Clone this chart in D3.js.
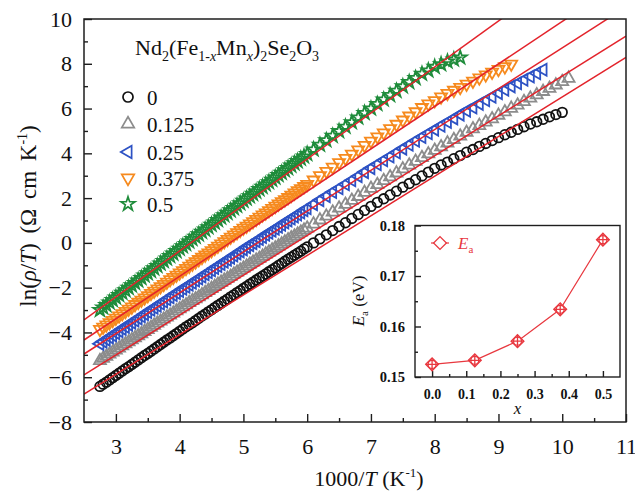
<!DOCTYPE html>
<html>
<head>
<meta charset="utf-8">
<script src="https://cdn.jsdelivr.net/npm/d3@7"></script>
<style>
  html, body { margin: 0; padding: 0; background: #fff; }
  svg, svg text { font-family: "Liberation Serif", "Times New Roman", serif; }
  svg { display: block; }
</style>
</head>
<body>
<svg id="chart" width="635" height="494"></svg>
<script>
// 1000/T grid shared by all five samples (K^-1)
const invT = [
  2.75, 2.8, 2.85, 2.9, 2.95, 3, 3.05, 3.1, 3.15, 3.2, 3.25, 3.3, 3.35, 3.4, 3.45, 3.5,
  3.55, 3.6, 3.65, 3.7, 3.75, 3.8, 3.85, 3.9, 3.95, 4, 4.05, 4.1, 4.15, 4.2, 4.25, 4.3,
  4.35, 4.4, 4.45, 4.5, 4.55, 4.6, 4.65, 4.7, 4.75, 4.8, 4.85, 4.9, 4.95, 5,
  5.05, 5.1, 5.15, 5.2, 5.25, 5.3, 5.35, 5.4, 5.45, 5.5, 5.55, 5.6, 5.65, 5.7, 5.75, 5.8,
  5.85, 5.9, 5.95, 6,
  6.1, 6.2, 6.3, 6.4, 6.5, 6.6, 6.7, 6.8, 6.9, 7, 7.1, 7.2, 7.3, 7.4, 7.5, 7.6, 7.7, 7.8,
  7.9, 8, 8.1, 8.2, 8.3, 8.4, 8.5, 8.6, 8.7, 8.8, 8.9, 9, 9.1, 9.2, 9.3, 9.4, 9.5, 9.6,
  9.7, 9.8, 9.9, 10, 10.1,
];

// ln(rho/T) for each sample (same order as invT)
const lnX000 = [
  -6.41, -6.31, -6.22, -6.12, -6.02, -5.92, -5.82, -5.72, -5.62, -5.53, -5.43, -5.33, -5.23, -5.13, -5.03, -4.94,
  -4.84, -4.74, -4.64, -4.54, -4.44, -4.34, -4.25, -4.15, -4.05, -3.95, -3.85, -3.75, -3.66, -3.57, -3.47, -3.37,
  -3.27, -3.18, -3.08, -2.99, -2.89, -2.79, -2.70, -2.60, -2.51, -2.41, -2.32, -2.22, -2.13, -2.03,
  -1.94, -1.84, -1.75, -1.66, -1.57, -1.48, -1.39, -1.29, -1.20, -1.11, -1.01, -0.92, -0.82, -0.73, -0.64, -0.55,
  -0.46, -0.37, -0.27, -0.18,
  0.00, 0.18, 0.36, 0.55, 0.73, 0.90, 1.09, 1.27, 1.45, 1.63, 1.81, 1.97, 2.14, 2.31, 2.49, 2.65, 2.82, 2.99,
  3.16, 3.33, 3.48, 3.61, 3.76, 3.90, 4.05, 4.17, 4.31, 4.44, 4.57, 4.70, 4.83, 4.94, 5.07, 5.19, 5.31, 5.41,
  5.52, 5.63, 5.73, 5.83,
];
const lnX125 = [
  -5.26, -5.16, -5.07, -4.97, -4.88, -4.79, -4.70, -4.60, -4.51, -4.42, -4.33, -4.24, -4.15, -4.06, -3.96, -3.87,
  -3.78, -3.68, -3.59, -3.50, -3.41, -3.32, -3.23, -3.14, -3.04, -2.95, -2.86, -2.77, -2.67, -2.58, -2.50, -2.41,
  -2.32, -2.22, -2.13, -2.04, -1.95, -1.85, -1.76, -1.67, -1.59, -1.50, -1.40, -1.31, -1.22, -1.13,
  -1.04, -0.95, -0.86, -0.77, -0.69, -0.60, -0.50, -0.41, -0.32, -0.23, -0.14, -0.05, 0.04, 0.13, 0.22, 0.30,
  0.39, 0.48, 0.57, 0.66,
  0.84, 1.02, 1.19, 1.37, 1.55, 1.72, 1.90, 2.07, 2.25, 2.43, 2.60, 2.78, 2.95, 3.12, 3.30, 3.47, 3.64, 3.81,
  3.97, 4.13, 4.29, 4.46, 4.61, 4.77, 4.93, 5.09, 5.24, 5.39, 5.54, 5.70, 5.85, 6.01, 6.15, 6.31, 6.46, 6.61,
  6.76, 6.90, 7.05, 7.20, 7.35,
];
const lnX250 = [
  -4.51, -4.41, -4.32, -4.22, -4.13, -4.03, -3.94, -3.84, -3.75, -3.65, -3.56, -3.47, -3.37, -3.28, -3.18, -3.09,
  -2.99, -2.90, -2.81, -2.71, -2.62, -2.52, -2.43, -2.33, -2.24, -2.15, -2.05, -1.96, -1.87, -1.78, -1.68, -1.59,
  -1.50, -1.40, -1.31, -1.22, -1.12, -1.03, -0.94, -0.84, -0.75, -0.66, -0.56, -0.47, -0.38, -0.29,
  -0.19, -0.10, -0.01, 0.08, 0.17, 0.26, 0.36, 0.45, 0.54, 0.63, 0.72, 0.81, 0.91, 1.00, 1.09, 1.18,
  1.27, 1.36, 1.46, 1.55,
  1.73, 1.91, 2.09, 2.27, 2.44, 2.62, 2.80, 2.98, 3.16, 3.34, 3.51, 3.69, 3.86, 4.04, 4.21, 4.38, 4.56, 4.73,
  4.90, 5.06, 5.23, 5.40, 5.56, 5.73, 5.90, 6.05, 6.21, 6.37, 6.53, 6.69, 6.84, 6.99, 7.13, 7.29, 7.43, 7.58,
  7.73,
];
const lnX375 = [
  -3.86, -3.76, -3.66, -3.56, -3.46, -3.36, -3.26, -3.16, -3.06, -2.96, -2.86, -2.75, -2.65, -2.55, -2.45, -2.35,
  -2.25, -2.15, -2.05, -1.95, -1.85, -1.75, -1.64, -1.54, -1.44, -1.34, -1.24, -1.14, -1.04, -0.94, -0.84, -0.74,
  -0.64, -0.54, -0.44, -0.34, -0.24, -0.14, -0.04, 0.06, 0.16, 0.26, 0.36, 0.46, 0.56, 0.66,
  0.75, 0.85, 0.95, 1.05, 1.15, 1.25, 1.34, 1.44, 1.54, 1.64, 1.74, 1.84, 1.93, 2.03, 2.13, 2.23,
  2.33, 2.43, 2.52, 2.62,
  2.81, 3.01, 3.20, 3.39, 3.59, 3.78, 3.97, 4.16, 4.36, 4.55, 4.74, 4.92, 5.11, 5.30, 5.49, 5.67, 5.86, 6.05,
  6.21, 6.36, 6.52, 6.68, 6.82, 6.95, 7.09, 7.23, 7.37, 7.51, 7.63, 7.75, 7.87, 7.99,
];
const lnX500 = [
  -3.00, -2.89, -2.78, -2.66, -2.55, -2.44, -2.33, -2.23, -2.12, -2.01, -1.90, -1.79, -1.68, -1.57, -1.46, -1.36,
  -1.25, -1.14, -1.03, -0.92, -0.81, -0.70, -0.59, -0.48, -0.37, -0.26, -0.15, -0.05, 0.06, 0.17, 0.27, 0.38,
  0.49, 0.59, 0.70, 0.81, 0.91, 1.02, 1.13, 1.23, 1.34, 1.45, 1.55, 1.66, 1.77, 1.88,
  1.98, 2.08, 2.19, 2.29, 2.40, 2.50, 2.61, 2.71, 2.82, 2.92, 3.03, 3.13, 3.24, 3.34, 3.45, 3.55,
  3.65, 3.76, 3.86, 3.97,
  4.17, 4.38, 4.58, 4.78, 4.99, 5.19, 5.39, 5.60, 5.80, 6.00, 6.20, 6.40, 6.60, 6.79, 6.99, 7.18, 7.36, 7.55,
  7.70, 7.86, 7.98, 8.10, 8.19, 8.28,
];

const sampleLabels = ['0', '0.125', '0.25', '0.375', '0.5'];
const sampleColors = ['#111111', '#8c8c8c', '#2d52c4', '#f68a1e', '#1f8c3b'];

// Arrhenius fits: ln(rho/T) = intercept + slope * 1000/T
const fitSlope = [1.77, 1.78, 1.823, 1.897, 2.054];
const fitIntercept = [-11.18, -10.35, -9.52, -9.08, -8.575];

// inset: activation energy vs x
const eaX = [0, 0.125, 0.25, 0.375, 0.5];
const eaY = [0.1525, 0.1533, 0.1571, 0.1634, 0.1772];

const xTicks = [3, 4, 5, 6, 7, 8, 9, 10, 11];
const xMinor = [3.5, 4.5, 5.5, 6.5, 7.5, 8.5, 9.5, 10.5];
const yTicks = [-8, -6, -4, -2, 0, 2, 4, 6, 8, 10];
const yMinor = [-7, -5, -3, -1, 1, 3, 5, 7, 9];
const insetXTicks = [0, 0.1, 0.2, 0.3, 0.4, 0.5];
const insetXMinor = [0.05, 0.15, 0.25, 0.35, 0.45];
const insetYTicks = [0.15, 0.16, 0.17, 0.18];
const insetYMinor = [0.155, 0.165, 0.175];

const series = [lnX000, lnX125, lnX250, lnX375, lnX500].map((vals, i) => ({
  label: sampleLabels[i],
  color: sampleColors[i],
  points: vals.map((v, j) => [invT[j], v]),
}));

const serif = '"Liberation Serif", "Times New Roman", serif';
const svg = d3.select('#chart').attr('font-family', serif);
const ink = '#1e1e1e';
const fitRed = '#e3232b';
const insetRed = '#e8383f';

const x = d3.scaleLinear().domain([2.5, 11]).range([84, 626]);
const y = d3.scaleLinear().domain([-8, 10]).range([422, 19]);

svg.append('clipPath').attr('id', 'plot-clip')
  .append('rect')
  .attr('x', x(2.5)).attr('y', y(10))
  .attr('width', x(11) - x(2.5)).attr('height', y(-8) - y(10));

// marker shapes per sample
const markerSym = [
  { type: d3.symbolCircle, size: 72, rot: 0 },
  { type: d3.symbolTriangle, size: 62, rot: 0 },
  { type: d3.symbolTriangle, size: 62, rot: -90 },
  { type: d3.symbolTriangle, size: 62, rot: 180 },
  { type: d3.symbolStar, size: 55, rot: 0 },
];

const plot = svg.append('g').attr('clip-path', 'url(#plot-clip)');

series.forEach((s, i) => {
  const m = markerSym[i];
  const path = d3.symbol(m.type, m.size)();
  plot.append('g')
    .selectAll('path')
    .data(s.points)
    .join('path')
    .attr('d', path)
    .attr('transform', (d) => `translate(${x(d[0])},${y(d[1])}) rotate(${m.rot})`)
    .attr('fill', 'none')
    .attr('stroke', s.color)
    .attr('stroke-width', 1.8);
});

// red fit lines across the full frame
const fitLine = d3.line().x((d) => x(d[0])).y((d) => y(d[1]));
fitSlope.forEach((b, i) => {
  const a = fitIntercept[i];
  const ends = x.domain().map((v) => [v, a + b * v]);
  plot.append('path')
    .attr('d', fitLine(ends))
    .attr('fill', 'none')
    .attr('stroke', fitRed)
    .attr('stroke-width', 1.5);
});

// axes
function styleAxis(g, size, bold) {
  g.attr('font-size', null).attr('font-family', null);
  g.select('.domain').remove();
  g.selectAll('line').attr('stroke', ink).attr('stroke-width', 1.4);
  g.selectAll('text').attr('fill', '#111').attr('font-size', size)
    .attr('font-family', serif)
    .attr('font-weight', bold ? 'bold' : null);
}

svg.append('g')
  .attr('transform', `translate(0,${y(-8)})`)
  .call(d3.axisBottom(x).tickValues(xTicks).tickSize(-8).tickPadding(16).tickFormat(d3.format('d')))
  .call((g) => styleAxis(g, 22));
svg.append('g')
  .attr('transform', `translate(0,${y(-8)})`)
  .call(d3.axisBottom(x).tickValues(xMinor).tickSize(-4).tickFormat(''))
  .call((g) => styleAxis(g, 22));
svg.append('g')
  .attr('transform', `translate(${x(2.5)},0)`)
  .call(d3.axisLeft(y).tickValues(yTicks).tickSize(-8).tickPadding(12).tickFormat(d3.format('d')))
  .call((g) => styleAxis(g, 22));
svg.append('g')
  .attr('transform', `translate(${x(2.5)},0)`)
  .call(d3.axisLeft(y).tickValues(yMinor).tickSize(-4).tickFormat(''))
  .call((g) => styleAxis(g, 22));

svg.append('rect')
  .attr('x', x(2.5)).attr('y', y(10))
  .attr('width', x(11) - x(2.5)).attr('height', y(-8) - y(10))
  .attr('fill', 'none').attr('stroke', ink).attr('stroke-width', 1.5);

// axis titles
const xTitle = svg.append('text')
  .attr('x', 369).attr('y', 486)
  .attr('text-anchor', 'middle').attr('font-size', 22).attr('fill', '#111');
xTitle.append('tspan').text('1000/');
xTitle.append('tspan').attr('font-style', 'italic').text('T');
xTitle.append('tspan').text(' (K');
xTitle.append('tspan').attr('font-size', 13).attr('dy', -9).text('-1');
xTitle.append('tspan').attr('dy', 9).text(')');

const yTitle = svg.append('text')
  .attr('transform', 'translate(36,216) rotate(-90)')
  .attr('text-anchor', 'middle').attr('font-size', 23).attr('fill', '#111')
  .attr('word-spacing', 4);
yTitle.append('tspan').text('ln(');
yTitle.append('tspan').attr('font-style', 'italic').text('ρ');
yTitle.append('tspan').text('/');
yTitle.append('tspan').attr('font-style', 'italic').text('T');
yTitle.append('tspan').text(') (Ω cm K');
yTitle.append('tspan').attr('font-size', 14).attr('dy', -9).text('-1');
yTitle.append('tspan').attr('dy', 9).text(')');

// legend
const title = svg.append('text').attr('x', 135).attr('y', 55)
  .attr('font-size', 22).attr('fill', '#111');
const formula = [
  ['Nd', 0], ['2', 1], ['(Fe', 0], ['1-', 1], ['x', 2], ['Mn', 0], ['x', 2],
  [')', 0], ['2', 1], ['Se', 0], ['2', 1], ['O', 0], ['3', 1],
];
let lowered = false;
formula.forEach(([t, kind]) => {
  const sub = kind > 0;
  const ts = title.append('tspan').text(t);
  if (sub) ts.attr('font-size', 14);
  if (kind === 2) ts.attr('font-style', 'italic');
  if (sub && !lowered) ts.attr('dy', 6);
  if (!sub && lowered) ts.attr('dy', -6);
  lowered = sub;
});

const legendRows = [97, 124, 152, 178, 204];
series.forEach((s, i) => {
  const m = markerSym[i];
  svg.append('path')
    .attr('d', d3.symbol(m.type, m.size * 1.1)())
    .attr('transform', `translate(128,${legendRows[i]}) rotate(${m.rot})`)
    .attr('fill', 'none').attr('stroke', s.color).attr('stroke-width', 1.7);
  svg.append('text')
    .attr('x', 147).attr('y', legendRows[i] + 7.5)
    .attr('font-size', 21).attr('fill', '#111')
    .text(s.label);
});

// inset
const ix = d3.scaleLinear().domain([-0.05, 0.55]).range([415, 620]);
const iy = d3.scaleLinear().domain([0.15, 0.18]).range([377, 225.5]);

svg.append('rect')
  .attr('x', ix(-0.05)).attr('y', iy(0.18))
  .attr('width', ix(0.55) - ix(-0.05)).attr('height', iy(0.15) - iy(0.18))
  .attr('fill', '#fff');

svg.append('g')
  .attr('transform', `translate(0,${iy(0.15)})`)
  .call(d3.axisBottom(ix).tickValues(insetXTicks).tickSize(-6).tickPadding(12).tickFormat(d3.format('.1f')))
  .call((g) => styleAxis(g, 14, true));
svg.append('g')
  .attr('transform', `translate(0,${iy(0.15)})`)
  .call(d3.axisBottom(ix).tickValues(insetXMinor).tickSize(-3).tickFormat(''))
  .call((g) => styleAxis(g, 14));
svg.append('g')
  .attr('transform', `translate(${ix(-0.05)},0)`)
  .call(d3.axisLeft(iy).tickValues(insetYTicks).tickSize(-6).tickPadding(10).tickFormat(d3.format('.2f')))
  .call((g) => styleAxis(g, 14.5, true));
svg.append('g')
  .attr('transform', `translate(${ix(-0.05)},0)`)
  .call(d3.axisLeft(iy).tickValues(insetYMinor).tickSize(-3).tickFormat(''))
  .call((g) => styleAxis(g, 14.5));

svg.append('rect')
  .attr('x', ix(-0.05)).attr('y', iy(0.18))
  .attr('width', ix(0.55) - ix(-0.05)).attr('height', iy(0.15) - iy(0.18))
  .attr('fill', 'none').attr('stroke', ink).attr('stroke-width', 1.4);

svg.append('path')
  .attr('d', d3.line().x((d) => ix(d[0])).y((d) => iy(d[1]))(eaX.map((v, i) => [v, eaY[i]])))
  .attr('fill', 'none').attr('stroke', insetRed).attr('stroke-width', 1.2);

const diamond = d3.symbol(d3.symbolSquare, 82)();
const eaPts = svg.append('g').selectAll('g')
  .data(eaX.map((v, i) => [v, eaY[i]]))
  .join('g')
  .attr('transform', (d) => `translate(${ix(d[0])},${iy(d[1])})`)
  .attr('stroke', insetRed).attr('fill', 'none').attr('stroke-width', 1.3);
eaPts.append('path').attr('d', diamond).attr('fill', '#fff').attr('transform', 'rotate(45)');
eaPts.append('circle').attr('r', 4);
eaPts.append('path').attr('d', 'M-6.4,0H6.4M0,-6.4V6.4');

// inset legend
svg.append('line').attr('x1', 431).attr('x2', 449).attr('y1', 243).attr('y2', 243)
  .attr('stroke', insetRed).attr('stroke-width', 1.2);
svg.append('path').attr('d', diamond)
  .attr('transform', 'translate(440,243) rotate(45)')
  .attr('fill', '#fff').attr('stroke', insetRed).attr('stroke-width', 1.3);
const eaLegend = svg.append('text').attr('x', 458).attr('y', 249)
  .attr('font-size', 17).attr('fill', insetRed);
eaLegend.append('tspan').attr('font-style', 'italic').text('E');
eaLegend.append('tspan').attr('font-size', 11).attr('dy', 4).text('a');

// inset titles
svg.append('text')
  .attr('x', ix(0.25)).attr('y', 414)
  .attr('text-anchor', 'middle').attr('font-size', 17).attr('font-style', 'italic')
  .attr('fill', '#111').text('x');

const eaTitle = svg.append('text')
  .attr('transform', 'translate(364,301) rotate(-90)')
  .attr('text-anchor', 'middle').attr('font-size', 17).attr('fill', '#111');
eaTitle.append('tspan').attr('font-style', 'italic').text('E');
eaTitle.append('tspan').attr('font-size', 11).attr('dy', 4).text('a');
eaTitle.append('tspan').attr('dy', -4).text(' (eV)');
</script>
</body>
</html>
